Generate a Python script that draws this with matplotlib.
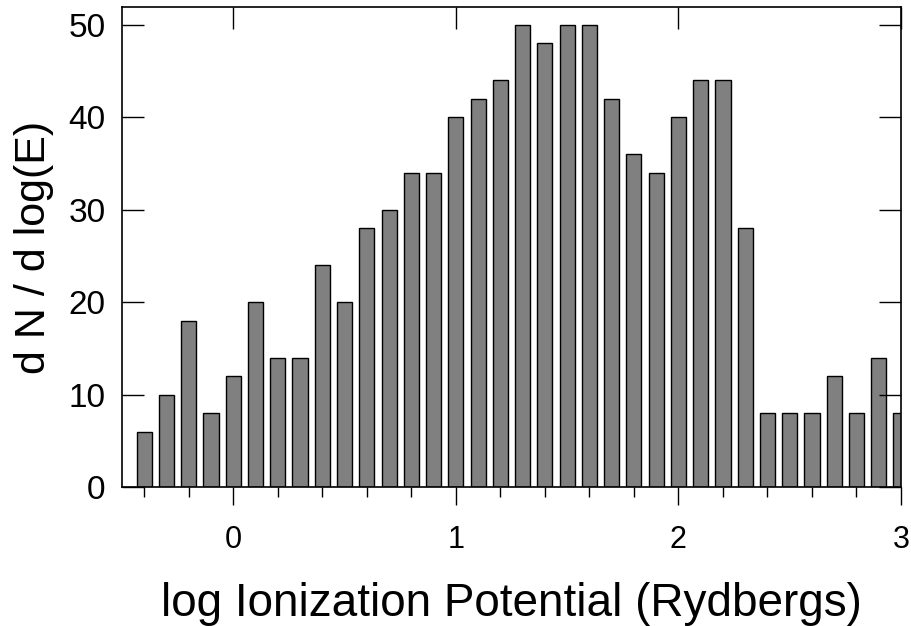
import numpy as np
import matplotlib.pyplot as plt
from matplotlib.ticker import MultipleLocator

plt.rcParams['font.family'] = ['Liberation Sans', 'DejaVu Sans']

# bin centres (log E, Rydbergs) and counts
log_e = [-0.4, -0.3, -0.2, -0.1, 0.0, 0.1, 0.2, 0.3, 0.4, 0.5, 0.6, 0.7,
         0.8, 0.9, 1.0, 1.1, 1.2, 1.3, 1.4, 1.5, 1.6, 1.7, 1.8, 1.9, 2.0,
         2.1, 2.2, 2.3, 2.4, 2.5, 2.6, 2.7, 2.8, 2.9, 3.0]
dn = [6, 10, 18, 8, 12, 20, 14, 14, 24, 20, 28, 30, 34, 34, 40, 42, 44, 50,
      48, 50, 50, 42, 36, 34, 40, 44, 44, 28, 8, 8, 8, 12, 8, 14, 8]

fig = plt.figure(figsize=(9.11, 6.26), dpi=100)
ax = fig.add_axes([122 / 911, 1 - 487 / 626, (901 - 122) / 911, (487 - 7) / 626])

ax.bar(log_e, dn, width=0.068, color='#808080', edgecolor='black', linewidth=1.0)

ax.set_xlim(-0.5, 3.0)
ax.set_ylim(0, 51.9)

ax.xaxis.set_major_locator(MultipleLocator(1))
ax.xaxis.set_minor_locator(MultipleLocator(0.2))
ax.yaxis.set_major_locator(MultipleLocator(10))

ax.tick_params(axis='x', which='major', direction='out', length=13, width=1,
               labelsize=22, pad=14)
ax.tick_params(axis='x', which='minor', direction='out', length=7, width=1)
ax.tick_params(axis='y', which='major', direction='in', length=16, width=1,
               right=True, labelsize=24, pad=12)

# inward major ticks along the top, no minors there
top = ax.secondary_xaxis('top')
top.xaxis.set_major_locator(MultipleLocator(1))
top.tick_params(direction='in', length=16, width=1, labeltop=False)
top.xaxis.set_minor_locator(MultipleLocator(10))
top.spines['top'].set_visible(False)

for s in ax.spines.values():
    s.set_linewidth(1.2)

ax.set_xlabel('log Ionization Potential (Rydbergs)', fontsize=33, labelpad=20)
ax.set_ylabel('d N / d log(E)', fontsize=31, labelpad=10)

fig.savefig('out.png', dpi=100)
